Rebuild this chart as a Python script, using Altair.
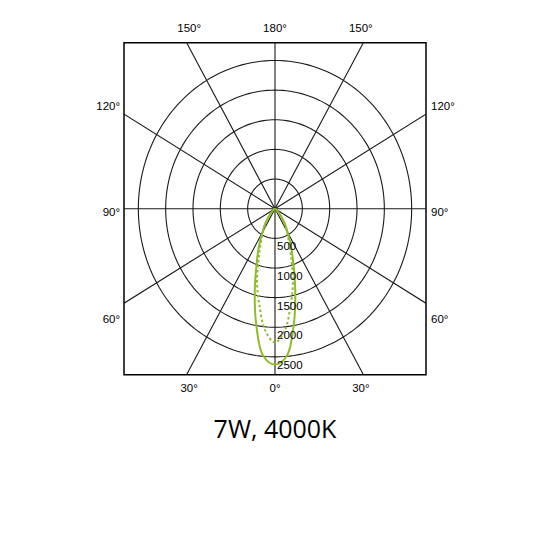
import altair as alt
import pandas as pd
import numpy as np

# ---- data ----
angles = [0, 5, 10, 15, 20, 25, 30, 35, 40, 45, 50, 55, 60, 65, 70, 75, 80, 85, 90]
solid_cd = [2630, 2490, 1980, 1430, 980, 690, 460, 320, 190, 100, 45, 15, 0, 0, 0, 0, 0, 0, 0]
dotted_cd = [2260, 2060, 1650, 1270, 860, 600, 430, 290, 175, 95, 40, 12, 0, 0, 0, 0, 0, 0, 0]
rings = [500, 1000, 1500, 2000, 2500]
ring_labels = ["500", "1000", "1500", "2000", "2500"]
spoke_angles = [0, 30, 60, 90, 120, 150, 180, 210, 240, 270, 300, 330]
top_labels = ["150°", "180°", "150°"]
bottom_labels = ["30°", "0°", "30°"]
side_labels = ["120°", "90°", "60°"]
title_text = "7W, 4000K"
green = "#8fbc2b"

XD = [-2762, 2762]
YD = [-2800, 2800]
xs = alt.Scale(domain=XD, nice=False, zero=False)
ys = alt.Scale(domain=YD, nice=False, zero=False)

def X(f):
    return alt.X(f, type="quantitative", scale=xs, axis=None)

def Y(f):
    return alt.Y(f, type="quantitative", scale=ys, axis=None)

# curves (mirrored around 0°)
rows = []
for name, vals in (("solid", solid_cd), ("dotted", dotted_cd)):
    for a, v in zip(angles, vals):
        rows.append({"series": name, "a": a, "I": v})
        if a != 0:
            rows.append({"series": name, "a": -a, "I": v})
curve_df = pd.DataFrame(rows)

# rings
ring_rows = []
for r in rings:
    for t in range(0, 362, 2):
        ring_rows.append({"r": r, "t": t})
ring_df = pd.DataFrame(ring_rows)

spoke_df = pd.DataFrame({"phi": spoke_angles})

ring_grid = alt.Chart(ring_df).transform_calculate(
    x="datum.r*sin(datum.t*PI/180)", y="datum.r*cos(datum.t*PI/180)"
).mark_line(color="#1a1a1a", strokeWidth=1.1).encode(
    x=X("x:Q"), y=Y("y:Q"), detail="r:N", order="t:Q"
)

spokes = alt.Chart(spoke_df).transform_calculate(
    x0="0", y0="0",
    x1="6000*sin(datum.phi*PI/180)", y1="6000*cos(datum.phi*PI/180)"
).mark_rule(color="#1a1a1a", strokeWidth=1.1, clip=True).encode(
    x=X("x0:Q"), y=Y("y0:Q"), x2="x1:Q", y2="y1:Q"
)

def curve(series, dash):
    base = alt.Chart(curve_df).transform_filter(
        alt.datum.series == series
    ).transform_calculate(
        x="datum.I*sin(datum.a*PI/180)", y="-datum.I*cos(datum.a*PI/180)"
    )
    kw = dict(color=green, strokeWidth=2, interpolate="catmull-rom")
    if dash:
        kw["strokeDash"] = [2.5, 2.5]
    return base.mark_line(**kw).encode(x=X("x:Q"), y=Y("y:Q"), order="a:Q")

ring_text_df = pd.DataFrame({"v": rings, "label": ring_labels})
ring_text = alt.Chart(ring_text_df).transform_calculate(
    x="0", y="-datum.v"
).mark_text(align="left", baseline="top", dx=2, dy=3, fontSize=11.5,
            font="Liberation Sans", color="black").encode(
    x=X("x:Q"), y=Y("y:Q"), text="label:N"
)

lab_x = 1570
lab_y = 3036
top_df = pd.DataFrame({"label": top_labels, "x": [-lab_x, 0, lab_x], "y": [lab_y] * 3})
bot_df = pd.DataFrame({"label": bottom_labels, "x": [-lab_x, 0, lab_x], "y": [-lab_y] * 3})
tb = alt.Chart(pd.concat([top_df, bot_df])).mark_text(
    align="center", baseline="middle", fontSize=11.5, font="Liberation Sans", color="black"
).encode(x=X("x:Q"), y=Y("y:Q"), text="label:N")

side_y = [1714, -67, -1884]
left_df = pd.DataFrame({"label": side_labels, "x": [XD[0]] * 3, "y": side_y})
right_df = pd.DataFrame({"label": side_labels, "x": [XD[1]] * 3, "y": side_y})
left_t = alt.Chart(left_df).mark_text(
    align="right", baseline="middle", dx=-4, fontSize=11.5, font="Liberation Sans", color="black"
).encode(x=X("x:Q"), y=Y("y:Q"), text="label:N")
right_t = alt.Chart(right_df).mark_text(
    align="left", baseline="middle", dx=5, fontSize=11.5, font="Liberation Sans", color="black"
).encode(x=X("x:Q"), y=Y("y:Q"), text="label:N")

title_df = pd.DataFrame({"label": [title_text], "x": [0], "y": [-3740]})
title = alt.Chart(title_df).mark_text(
    align="center", baseline="middle", fontSize=25, font="Open Sans", color="black"
).encode(x=X("x:Q"), y=Y("y:Q"), text="label:N")

chart = alt.layer(
    ring_grid, spokes, curve("dotted", True), curve("solid", False),
    ring_text, tb, left_t, right_t, title
).properties(
    width=302, height=332,
    autosize=alt.AutoSizeParams(type="none"),
    padding={"left": 116, "top": 34.7, "right": 110, "bottom": 160},
    background="white"
).configure_view(stroke="black", strokeWidth=1.5)

chart.save("out.html", embed_options={"renderer": "svg", "actions": False})
